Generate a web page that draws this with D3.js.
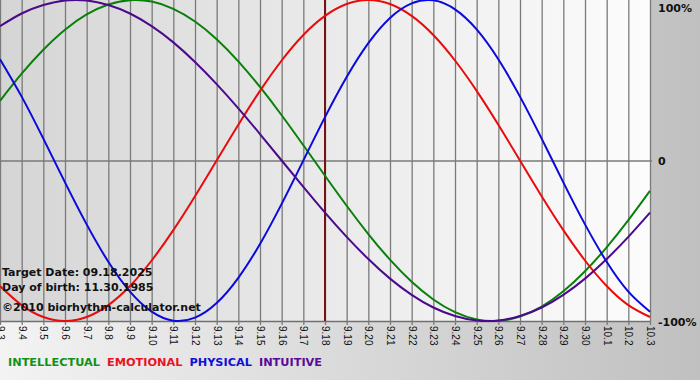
<!DOCTYPE html>
<html>
<head>
<meta charset="utf-8">
<script src="https://cdn.jsdelivr.net/npm/d3@7"></script>
<style>
  html, body { margin: 0; padding: 0; background: #d0d0d0; }
  svg { display: block; }
</style>
</head>
<body>
<svg id="chart" width="700" height="380"></svg>
<script>
// ---- data ----
const dayLabels = ["9.3","9.4","9.5","9.6","9.7","9.8","9.9","9.10","9.11","9.12","9.13","9.14","9.15","9.16","9.17","9.18","9.19","9.20","9.21","9.22","9.23","9.24","9.25","9.26","9.27","9.28","9.29","9.30","10.1","10.2","10.3"];
const targetIndex = 15; // 9.18

const physical = [0.631,0.398,0.136,-0.136,-0.398,-0.631,-0.817,-0.942,-0.998,-0.979,-0.888,-0.731,-0.520,-0.270,0.000,0.270,0.520,0.731,0.888,0.979,0.998,0.942,0.817,0.631,0.398,0.136,-0.136,-0.398,-0.631,-0.817,-0.942];
const emotional = [-0.782,-0.901,-0.975,-1.000,-0.975,-0.901,-0.782,-0.623,-0.434,-0.223,0.000,0.223,0.434,0.623,0.782,0.901,0.975,1.000,0.975,0.901,0.782,0.623,0.434,0.223,0.000,-0.223,-0.434,-0.623,-0.782,-0.901,-0.975];
const intellectual = [0.372,0.541,0.690,0.815,0.910,0.972,0.999,0.990,0.945,0.866,0.756,0.618,0.458,0.282,0.095,-0.095,-0.282,-0.458,-0.618,-0.756,-0.866,-0.945,-0.990,-0.999,-0.972,-0.910,-0.815,-0.690,-0.541,-0.372,-0.189];
const intuitive = [0.837,0.916,0.969,0.997,0.997,0.969,0.916,0.837,0.736,0.614,0.476,0.325,0.165,0.000,-0.165,-0.325,-0.476,-0.614,-0.736,-0.837,-0.916,-0.969,-0.997,-0.997,-0.969,-0.916,-0.837,-0.736,-0.614,-0.476,-0.325];

const seriesNames = ["INTELLECTUAL","EMOTIONAL","PHYSICAL","INTUITIVE"];
const seriesColors = ["#0a800a","#e80c0c","#0a0adc","#4b0a8c"];
const legendColors = ["#12921a","#e8141e","#1010d8","#580a98"];
const seriesValues = [intellectual, emotional, physical, intuitive];
const yTickValues = [1, 0, -1];
const yTickLabels = ["100%", "0", "-100%"];
const infoLines = ["Target Date: 09.18.2025", "Day of birth: 11.30.1985", "©2010 biorhythm-calculator.net"];

// ---- layout ----
const W = 700, H = 380;
const plotL = 0, plotR = 650, plotT = 0, plotB = 321;

const svg = d3.select("#chart");
const defs = svg.append("defs");

const bgGrad = defs.append("linearGradient").attr("id", "bgGrad")
  .attr("x1", "0%").attr("y1", "0%").attr("x2", "100%").attr("y2", "0%");
bgGrad.append("stop").attr("offset", "0%").attr("stop-color", "#f3f3f3");
bgGrad.append("stop").attr("offset", "100%").attr("stop-color", "#c0c0c0");

const plotGrad = defs.append("linearGradient").attr("id", "plotGrad")
  .attr("x1", "0%").attr("y1", "0%").attr("x2", "100%").attr("y2", "0%");
plotGrad.append("stop").attr("offset", "0%").attr("stop-color", "#d5d5d5");
plotGrad.append("stop").attr("offset", "50%").attr("stop-color", "#eaeaea");
plotGrad.append("stop").attr("offset", "100%").attr("stop-color", "#fcfcfc");

svg.append("rect").attr("x", 0).attr("y", 0).attr("width", W).attr("height", H)
  .attr("fill", "url(#bgGrad)");

const x = d3.scaleLinear().domain([0, dayLabels.length - 1]).range([plotL, plotR]);
const y = d3.scaleLinear().domain([-1, 1]).range([plotB, plotT]);

svg.append("rect").attr("x", plotL).attr("y", plotT)
  .attr("width", plotR - plotL + 1).attr("height", plotB - plotT)
  .attr("fill", "url(#plotGrad)");

// vertical grid lines
const gridX = svg.append("g").attr("transform", `translate(0,${plotB})`)
  .call(d3.axisBottom(x).tickValues(d3.range(dayLabels.length))
    .tickSizeInner(-(plotB - plotT)).tickSizeOuter(0).tickFormat(""));
gridX.select(".domain").remove();
gridX.selectAll("line").attr("stroke", "#7a7a7a").attr("stroke-width", 1.3);

// horizontal zero line
const gridY = svg.append("g").attr("transform", `translate(${plotL},0)`)
  .call(d3.axisRight(y).tickValues([0]).tickSizeInner(plotR - plotL + 2).tickSizeOuter(0).tickFormat(""));
gridY.select(".domain").remove();
gridY.selectAll("line").attr("stroke", "#7a7a7a").attr("stroke-width", 1.3);

// bottom axis with rotated labels
const xAxis = svg.append("g").attr("transform", `translate(0,${plotB})`)
  .call(d3.axisBottom(x).tickValues(d3.range(dayLabels.length))
    .tickSizeInner(4).tickSizeOuter(0).tickFormat(i => dayLabels[i]));
xAxis.select(".domain").attr("stroke", "#707070").attr("stroke-width", 1.3);
xAxis.selectAll(".tick line").attr("stroke", "#7a7a7a").attr("stroke-width", 1.3);
xAxis.selectAll(".tick text")
  .attr("font-family", "'Liberation Sans', Arial, sans-serif")
  .attr("font-size", 10)
  .attr("fill", "#111")
  .attr("text-anchor", "start")
  .attr("y", 0).attr("dy", "0.35em")
  .attr("transform", "translate(0,5) rotate(90)");

// target date line
svg.append("line")
  .attr("x1", x(targetIndex)).attr("x2", x(targetIndex))
  .attr("y1", plotT).attr("y2", plotB)
  .attr("stroke", "#7a1010").attr("stroke-width", 2);

// right axis labels
const yAxis = svg.append("g").attr("transform", `translate(${plotR + 8},0)`)
  .call(d3.axisRight(y).tickValues(yTickValues).tickSize(0)
    .tickFormat((d, i) => yTickLabels[i]));
yAxis.select(".domain").remove();
yAxis.selectAll(".tick text")
  .attr("x", 0)
  .attr("font-family", "'DejaVu Sans', Verdana, sans-serif")
  .attr("font-weight", "bold")
  .attr("font-size", 11)
  .attr("fill", "#111")
  .attr("dy", (d) => d === 1 ? "1.05em" : "0.4em");

// curves
const line = d3.line().x((d, i) => x(i)).y(d => y(d)).curve(d3.curveNatural);
const curves = svg.append("g");
seriesValues.forEach((vals, k) => {
  curves.append("path").datum(vals)
    .attr("d", line)
    .attr("fill", "none")
    .attr("stroke", seriesColors[k])
    .attr("stroke-width", 2);
});

// info text
const infoY = [276, 291, 311];
svg.append("g").selectAll("text").data(infoLines).join("text")
  .attr("x", 2).attr("y", (d, i) => infoY[i])
  .attr("font-family", "'DejaVu Sans', Verdana, sans-serif")
  .attr("font-weight", "bold")
  .attr("font-size", 11)
  .attr("fill", "#111")
  .text(d => d);

// legend
const legend = svg.append("text")
  .attr("x", 8).attr("y", 366)
  .attr("font-family", "'DejaVu Sans', Verdana, sans-serif")
  .attr("font-weight", "bold")
  .attr("font-size", 11.3);
seriesNames.forEach((n, k) => {
  legend.append("tspan").attr("fill", legendColors[k]).attr("dx", k ? 7 : 0).text(n);
});
</script>
</body>
</html>
